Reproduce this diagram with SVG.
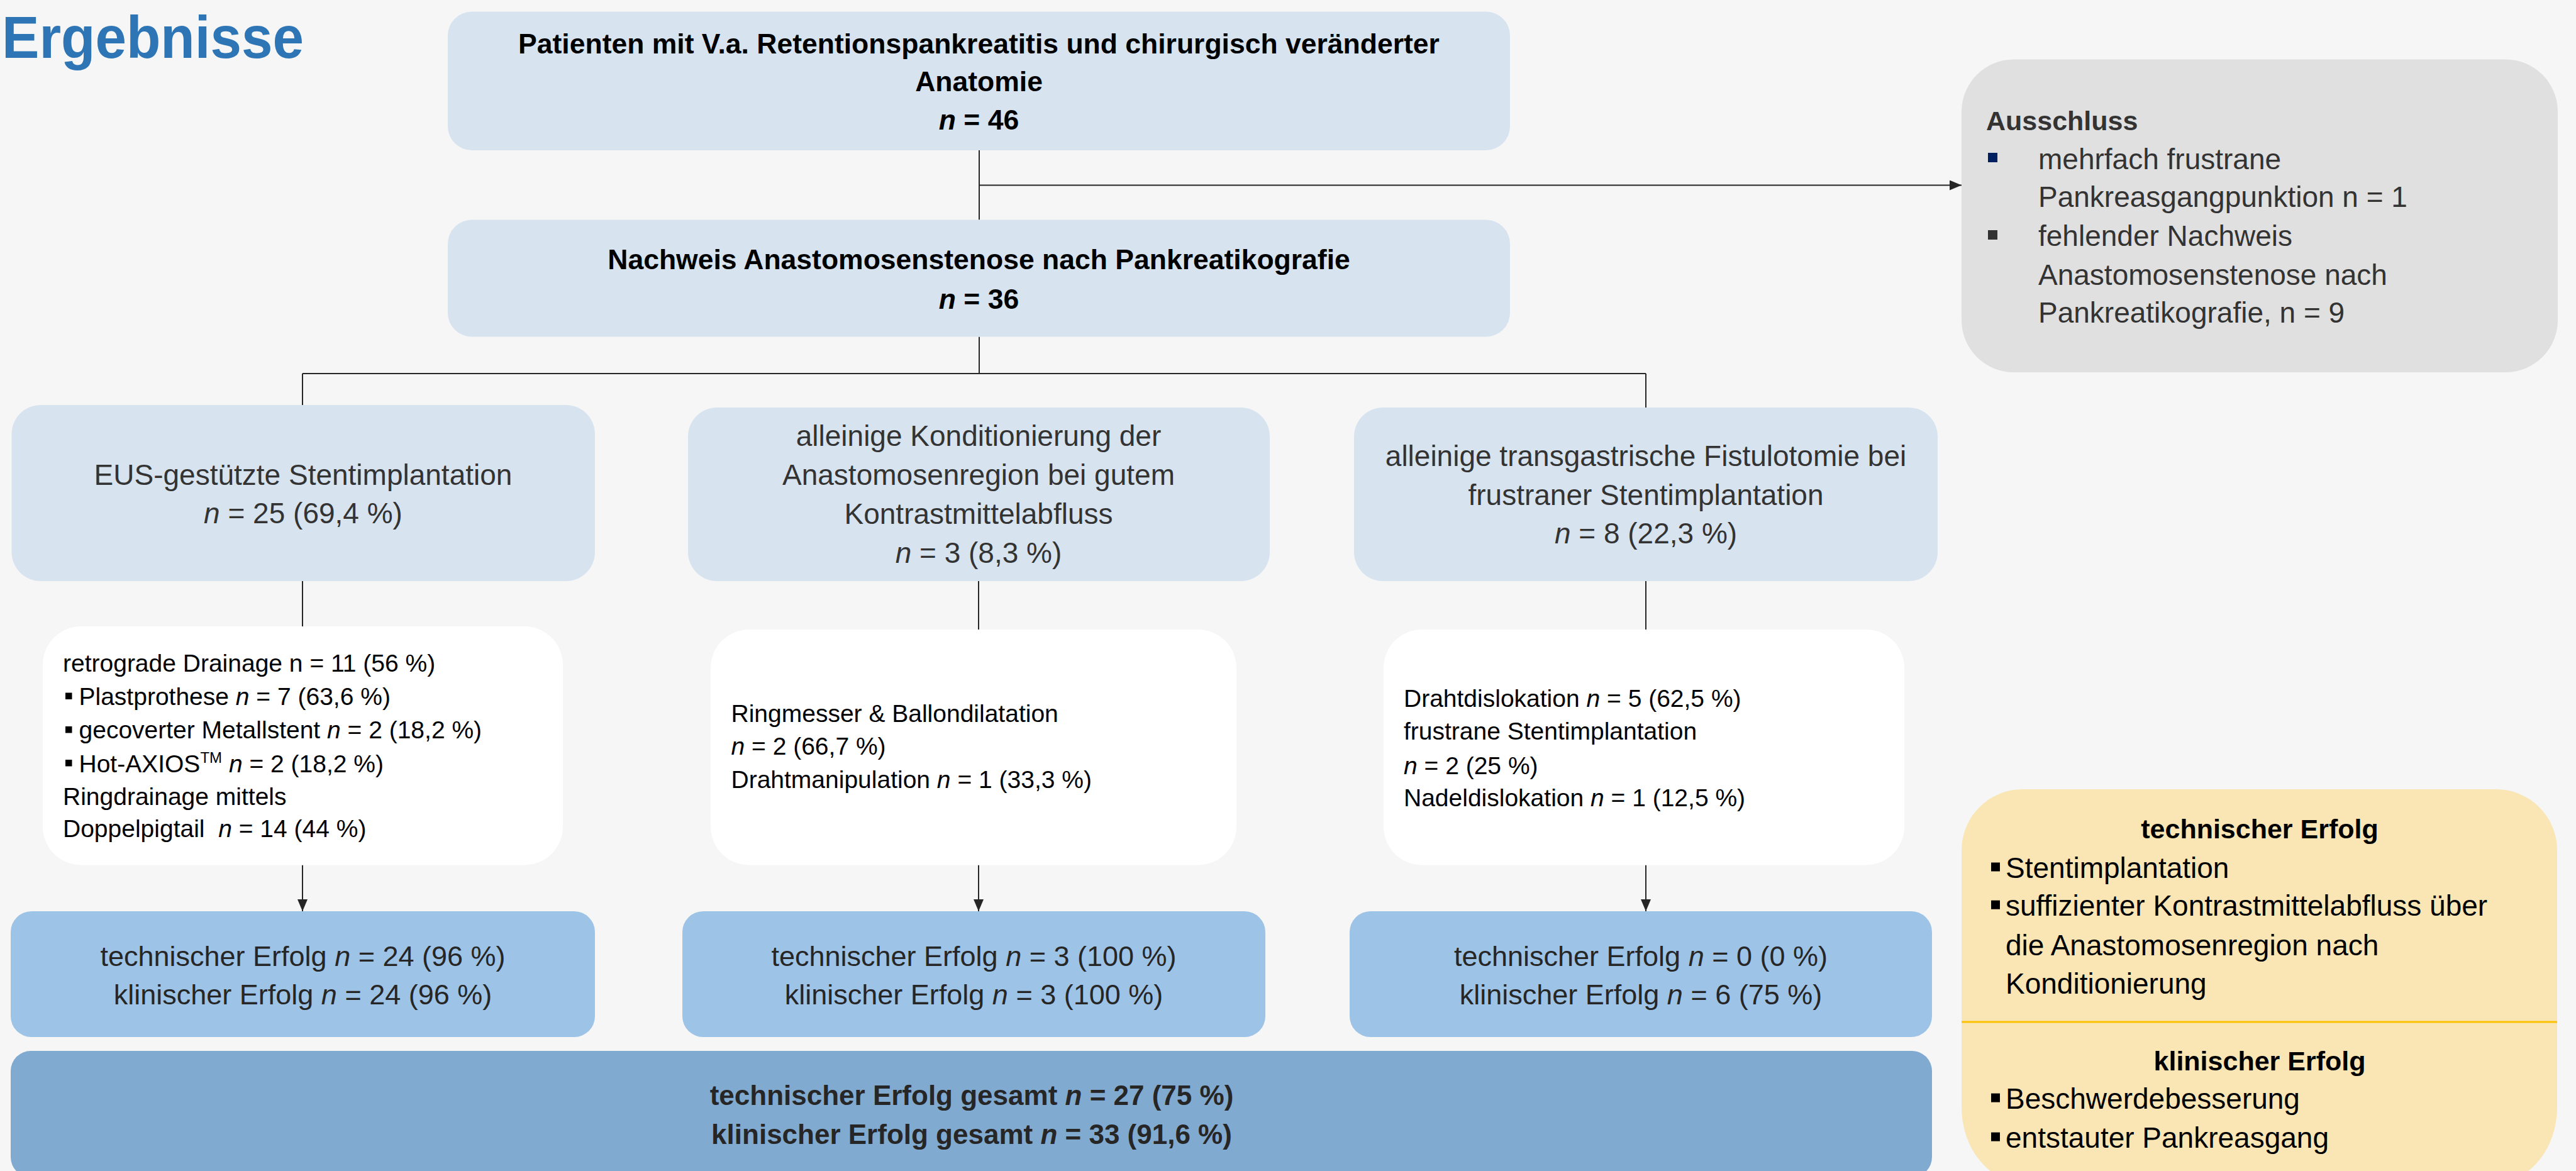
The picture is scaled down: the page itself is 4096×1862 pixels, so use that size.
<svg xmlns="http://www.w3.org/2000/svg" width="4096" height="1862" viewBox="0 0 4096 1862">
<style>
text{font-family:"Liberation Sans",Arial,sans-serif}
.hb{font-weight:bold;font-size:44.5px;fill:#000;text-anchor:middle}
.h{font-size:46px;fill:#333;text-anchor:middle}
.w{font-size:39px;fill:#000}
.s{font-size:45px;fill:#262626;text-anchor:middle}
.g{font-weight:bold;font-size:44px;fill:#262626;text-anchor:middle}
.x{font-size:46px;fill:#333}
.y{font-size:46px;fill:#000}
.yb{font-weight:bold;font-size:43px;fill:#000;text-anchor:middle}
.i{font-style:italic}
.ln{stroke:#262626;stroke-width:2;fill:none}
.top{fill:#D7E4F0}
.suc{fill:#9DC3E6}
.wht{fill:#FFFFFF}
</style>
<defs>
<marker id="ah" markerUnits="userSpaceOnUse" markerWidth="20" markerHeight="18" refX="19" refY="8" orient="auto"><path d="M0,0 L19,8 L0,16 Z" fill="#262626"/></marker>
</defs>
<rect x="0" y="0" width="4096" height="1862" fill="#F6F6F6"/>
<text x="3" y="92" font-weight="bold" font-size="94" fill="#2E75B6" textLength="480" lengthAdjust="spacingAndGlyphs">Ergebnisse</text>

<g id="connectors">
<path class="ln" d="M1557,239 V349.5"/>
<path class="ln" d="M1557,294.5 H3119" marker-end="url(#ah)"/>
<path class="ln" d="M1557,535.5 V594"/>
<path class="ln" d="M481,594 H2617"/>
<path class="ln" d="M481,594 V644"/>
<path class="ln" d="M2617,594 V648"/>
<path class="ln" d="M481,924 V996"/>
<path class="ln" d="M1556,924 V1001"/>
<path class="ln" d="M2617,924 V1001"/>
<path class="ln" d="M481,1375.5 V1449" marker-end="url(#ah)"/>
<path class="ln" d="M1556,1375.5 V1449" marker-end="url(#ah)"/>
<path class="ln" d="M2617,1375.5 V1449" marker-end="url(#ah)"/>
</g>

<g id="n-patienten">
<rect class="top" x="712" y="18.5" width="1689" height="220.5" rx="38"/>
<text class="hb" x="1556.5" y="85">Patienten mit V.a. Retentionspankreatitis und chirurgisch veränderter</text>
<text class="hb" x="1556.5" y="145">Anatomie</text>
<text class="hb" x="1556.5" y="206"><tspan class="i">n</tspan> = 46</text>
</g>

<g id="n-nachweis">
<rect class="top" x="712" y="349.5" width="1689" height="186" rx="38"/>
<text class="hb" x="1556.5" y="428">Nachweis Anastomosenstenose nach Pankreatikografie</text>
<text class="hb" x="1556.5" y="490.5"><tspan class="i">n</tspan> = 36</text>
</g>

<g id="n-ausschluss">
<rect x="3119" y="94.5" width="948" height="497.5" rx="83" fill="#E0E0E0"/>
<text x="3158" y="206.5" font-weight="bold" font-size="43" fill="#333">Ausschluss</text>
<rect x="3161" y="243" width="15" height="15" fill="#002060"/>
<text class="x" x="3241" y="268.5">mehrfach frustrane</text>
<text class="x" x="3241" y="329">Pankreasgangpunktion n = 1</text>
<rect x="3161" y="366" width="15" height="15" fill="#333"/>
<text class="x" x="3241" y="390.5">fehlender Nachweis</text>
<text class="x" x="3241" y="453">Anastomosenstenose nach</text>
<text class="x" x="3241" y="513">Pankreatikografie, n = 9</text>
</g>

<g id="n-eus">
<rect class="top" x="18.5" y="644" width="927.5" height="280" rx="46"/>
<text class="h" x="482" y="771">EUS-gestützte Stentimplantation</text>
<text class="h" x="482" y="832"><tspan class="i">n</tspan> = 25 (69,4 %)</text>
</g>

<g id="n-konditionierung">
<rect class="top" x="1094" y="648" width="925" height="276" rx="46"/>
<text class="h" x="1556" y="709">alleinige Konditionierung der</text>
<text class="h" x="1556" y="771">Anastomosenregion bei gutem</text>
<text class="h" x="1556" y="833">Kontrastmittelabfluss</text>
<text class="h" x="1556" y="895"><tspan class="i">n</tspan> = 3 (8,3 %)</text>
</g>

<g id="n-fistulotomie">
<rect class="top" x="2153" y="648" width="928" height="276" rx="46"/>
<text class="h" x="2617" y="740.5">alleinige transgastrische Fistulotomie bei</text>
<text class="h" x="2617" y="803">frustraner Stentimplantation</text>
<text class="h" x="2617" y="864"><tspan class="i">n</tspan> = 8 (22,3 %)</text>
</g>

<g id="n-details-eus">
<rect class="wht" x="68" y="996" width="827" height="379.5" rx="61"/>
<text class="w" x="100" y="1067.7">retrograde Drainage n = 11 (56 %)</text>
<rect x="104" y="1101.5" width="10.5" height="10.5" fill="#000"/>
<text class="w" x="125.5" y="1120.7">Plastprothese <tspan class="i">n</tspan> = 7 (63,6 %)</text>
<rect x="104" y="1155" width="10.5" height="10.5" fill="#000"/>
<text class="w" x="125.5" y="1174.4">gecoverter Metallstent <tspan class="i">n</tspan> = 2 (18,2 %)</text>
<rect x="104" y="1208" width="10.5" height="10.5" fill="#000"/>
<text class="w" x="125.5" y="1227.5">Hot-AXIOS<tspan font-size="24" dy="-15">TM</tspan><tspan dy="15"> </tspan><tspan class="i">n</tspan> = 2 (18,2 %)</text>
<text class="w" x="100" y="1280">Ringdrainage mittels</text>
<text class="w" x="100" y="1331">Doppelpigtail&#160; <tspan class="i">n</tspan> = 14 (44 %)</text>
</g>

<g id="n-details-kond">
<rect class="wht" x="1130" y="1001" width="836" height="374.5" rx="61"/>
<text class="w" x="1162.5" y="1147.5">Ringmesser &amp; Ballondilatation</text>
<text class="w" x="1162.5" y="1200.2"><tspan class="i">n</tspan> = 2 (66,7 %)</text>
<text class="w" x="1162.5" y="1253">Drahtmanipulation <tspan class="i">n</tspan> = 1 (33,3 %)</text>
</g>

<g id="n-details-fist">
<rect class="wht" x="2200" y="1001" width="828" height="374.5" rx="61"/>
<text class="w" x="2232" y="1123.5">Drahtdislokation <tspan class="i">n</tspan> = 5 (62,5 %)</text>
<text class="w" x="2232" y="1176">frustrane Stentimplantation</text>
<text class="w" x="2232" y="1230.6"><tspan class="i">n</tspan> = 2 (25 %)</text>
<text class="w" x="2232" y="1282">Nadeldislokation <tspan class="i">n</tspan> = 1 (12,5 %)</text>
</g>

<g id="n-erfolg-eus">
<rect class="suc" x="17" y="1449" width="929" height="200" rx="33"/>
<text class="s" x="481.5" y="1535.5">technischer Erfolg <tspan class="i">n</tspan> = 24 (96 %)</text>
<text class="s" x="481.5" y="1597">klinischer Erfolg <tspan class="i">n</tspan> = 24 (96 %)</text>
</g>

<g id="n-erfolg-kond">
<rect class="suc" x="1085" y="1449" width="927" height="200" rx="33"/>
<text class="s" x="1548.5" y="1535.5">technischer Erfolg <tspan class="i">n</tspan> = 3 (100 %)</text>
<text class="s" x="1548.5" y="1597">klinischer Erfolg <tspan class="i">n</tspan> = 3 (100 %)</text>
</g>

<g id="n-erfolg-fist">
<rect class="suc" x="2146" y="1449" width="926" height="200" rx="33"/>
<text class="s" x="2609" y="1535.5">technischer Erfolg <tspan class="i">n</tspan> = 0 (0 %)</text>
<text class="s" x="2609" y="1597">klinischer Erfolg <tspan class="i">n</tspan> = 6 (75 %)</text>
</g>

<g id="n-gesamt">
<rect x="17" y="1671" width="3055" height="201" rx="32" fill="#81AAD1"/>
<text class="g" x="1545" y="1757">technischer Erfolg gesamt <tspan class="i">n</tspan> = 27 (75 %)</text>
<text class="g" x="1545" y="1819">klinischer Erfolg gesamt <tspan class="i">n</tspan> = 33 (91,6 %)</text>
</g>

<g id="n-definition">
<path d="M3216,1255 H3969 A97,97 0 0 1 4066,1352 V1760 A97,120 0 0 1 3969,1880 H3216 A97,120 0 0 1 3119,1760 V1352 A97,97 0 0 1 3216,1255 Z" fill="#F9E6B4"/>
<line x1="3119" y1="1625" x2="4066" y2="1625" stroke="#FFC000" stroke-width="3"/>
<text class="yb" x="3593" y="1333">technischer Erfolg</text>
<rect x="3166" y="1371.5" width="14" height="14" fill="#000"/>
<text class="y" x="3189" y="1395.5">Stentimplantation</text>
<rect x="3166" y="1431.7" width="14" height="14" fill="#000"/>
<text class="y" x="3189" y="1455.7">suffizienter Kontrastmittelabfluss über</text>
<text class="y" x="3189" y="1518.7">die Anastomosenregion nach</text>
<text class="y" x="3189" y="1579.7">Konditionierung</text>
<text class="yb" x="3593" y="1702">klinischer Erfolg</text>
<rect x="3166" y="1738.6" width="14" height="14" fill="#000"/>
<text class="y" x="3189" y="1762.6">Beschwerdebesserung</text>
<rect x="3166" y="1800.6" width="14" height="14" fill="#000"/>
<text class="y" x="3189" y="1824.6">entstauter Pankreasgang</text>
</g>
</svg>
